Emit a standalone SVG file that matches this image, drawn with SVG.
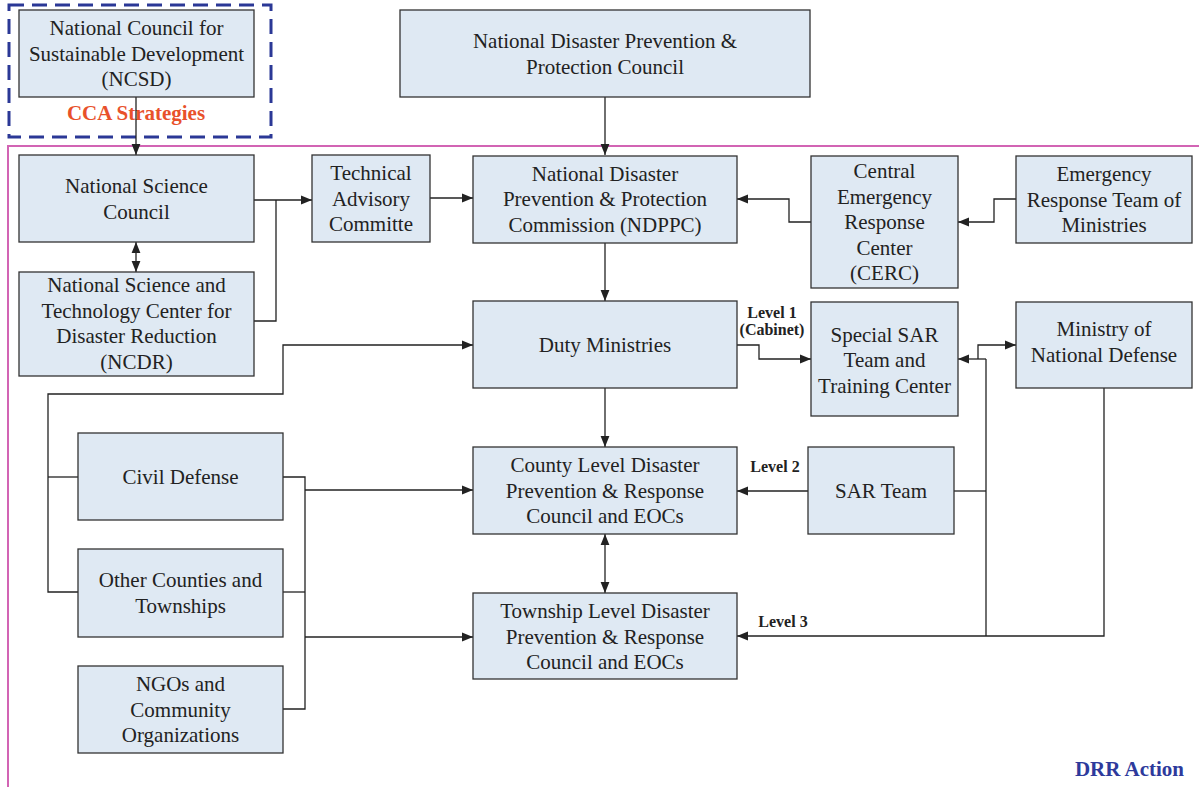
<svg xmlns="http://www.w3.org/2000/svg" width="1199" height="787" viewBox="0 0 1199 787">
<style>
.box{fill:#dfe9f3;stroke:#333;stroke-width:1.3}
.t{font-family:"Liberation Serif","Times New Roman",serif;font-size:21px;fill:#222;text-anchor:middle}
.lv{font-family:"Liberation Serif","Times New Roman",serif;font-size:16px;font-weight:bold;fill:#222;text-anchor:middle}
.c{fill:none;stroke:#222;stroke-width:1.3}
.a{marker-end:url(#ah)}
.b{marker-start:url(#ah);marker-end:url(#ah)}
</style>
<defs>
<marker id="ah" viewBox="0 0 10 10" refX="10" refY="5" markerWidth="11" markerHeight="11" markerUnits="userSpaceOnUse" orient="auto-start-reverse">
<path d="M0,1 L10,5 L0,9 z" fill="#222"/>
</marker>
</defs>
<rect width="1199" height="787" fill="#fff"/>
<g id="frames">
<path d="M1199,146 H8 V787" fill="none" stroke="#d264b4" stroke-width="2"/>
<rect x="9" y="5" width="262" height="132" fill="none" stroke="#2b3896" stroke-width="3" stroke-dasharray="15 8"/>
<text x="136" y="120" font-family="Liberation Serif, serif" font-size="21" font-weight="bold" fill="#e8512b" text-anchor="middle">CCA Strategies</text>
<text x="1184" y="776" font-family="Liberation Serif, serif" font-size="21" font-weight="bold" fill="#2e3a9c" text-anchor="end">DRR Action</text>
</g>
<g id="connectors">
<path class="c a" d="M136,97 V155"/>
<path class="c a" d="M605,97 V155"/>
<path class="c a" d="M254,200 H312"/>
<path class="c" d="M254,321 H276 V200"/>
<path class="c b" d="M136,242 V272"/>
<path class="c a" d="M430,198 H473"/>
<path class="c a" d="M811,222 H789 V199 H737"/>
<path class="c a" d="M1016,199 H994 V222 H958"/>
<path class="c a" d="M605,243 V301"/>
<path class="c a" d="M737,345 H759 V359 H811"/>
<path class="c a" d="M986,359 H958"/>
<path class="c a" d="M978,359 V345 H1016"/>
<path class="c" d="M986,359 V636"/>
<path class="c" d="M954,491 H986"/>
<path class="c a" d="M1104,388 V636 H737"/>
<path class="c a" d="M808,491 H737"/>
<path class="c a" d="M605,388 V447"/>
<path class="c b" d="M605,534 V593"/>
<path class="c" d="M78,477 H48"/>
<path class="c a" d="M78,592 H48 V394 H283 V345 H473"/>
<path class="c" d="M283,477 H305 V709 H283"/>
<path class="c" d="M283,592 H305"/>
<path class="c a" d="M305,490 H473"/>
<path class="c a" d="M305,637 H473"/>
</g>
<g id="ncsd"><rect class="box" x="19" y="10" width="235" height="87"/>
<text class="t" x="136.5" y="35">National Council for</text><text class="t" x="136.5" y="60.5">Sustainable Development</text><text class="t" x="136.5" y="86">(NCSD)</text></g>
<g id="ndppcouncil"><rect class="box" x="400" y="10" width="410" height="87"/>
<text class="t" x="605" y="48">National Disaster Prevention &amp;</text><text class="t" x="605" y="73.5">Protection Council</text></g>
<g id="nsc"><rect class="box" x="19" y="155" width="235" height="87"/>
<text class="t" x="136.5" y="193">National Science</text><text class="t" x="136.5" y="218.5">Council</text></g>
<g id="tac"><rect class="box" x="312" y="155" width="118" height="87"/>
<text class="t" x="371" y="180">Technical</text><text class="t" x="371" y="205.5">Advisory</text><text class="t" x="371" y="231">Committe</text></g>
<g id="ndppc"><rect class="box" x="473" y="156" width="264" height="87"/>
<text class="t" x="605" y="180.5">National Disaster</text><text class="t" x="605" y="206">Prevention &amp; Protection</text><text class="t" x="605" y="231.5">Commission (NDPPC)</text></g>
<g id="cerc"><rect class="box" x="811" y="156" width="147" height="132"/>
<text class="t" x="884.5" y="178">Central</text><text class="t" x="884.5" y="203.5">Emergency</text><text class="t" x="884.5" y="229">Response</text><text class="t" x="884.5" y="254.5">Center</text><text class="t" x="884.5" y="280">(CERC)</text></g>
<g id="ertm"><rect class="box" x="1016" y="156" width="176" height="87"/>
<text class="t" x="1104" y="181">Emergency</text><text class="t" x="1104" y="206.5">Response Team of</text><text class="t" x="1104" y="232">Ministries</text></g>
<g id="ncdr"><rect class="box" x="19" y="272" width="235" height="104"/>
<text class="t" x="136.5" y="292">National Science and</text><text class="t" x="136.5" y="317.5">Technology Center for</text><text class="t" x="136.5" y="343">Disaster Reduction</text><text class="t" x="136.5" y="368.5">(NCDR)</text></g>
<g id="duty"><rect class="box" x="473" y="301" width="264" height="87"/>
<text class="t" x="605" y="352">Duty Ministries</text></g>
<g id="ssar"><rect class="box" x="811" y="302" width="147" height="114"/>
<text class="t" x="884.5" y="341.5">Special SAR</text><text class="t" x="884.5" y="367">Team and</text><text class="t" x="884.5" y="392.5">Training Center</text></g>
<g id="mnd"><rect class="box" x="1016" y="302" width="176" height="86"/>
<text class="t" x="1104" y="336">Ministry of</text><text class="t" x="1104" y="361.5">National Defense</text></g>
<g id="civil"><rect class="box" x="78" y="433" width="205" height="87"/>
<text class="t" x="180.5" y="484">Civil Defense</text></g>
<g id="county"><rect class="box" x="473" y="447" width="264" height="87"/>
<text class="t" x="605" y="472">County Level Disaster</text><text class="t" x="605" y="497.5">Prevention &amp; Response</text><text class="t" x="605" y="523">Council and EOCs</text></g>
<g id="sar"><rect class="box" x="808" y="447" width="146" height="87"/>
<text class="t" x="881" y="497.5">SAR Team</text></g>
<g id="other"><rect class="box" x="78" y="549" width="205" height="88"/>
<text class="t" x="180.5" y="587">Other Counties and</text><text class="t" x="180.5" y="612.5">Townships</text></g>
<g id="township"><rect class="box" x="473" y="593" width="264" height="86"/>
<text class="t" x="605" y="618">Township Level Disaster</text><text class="t" x="605" y="643.5">Prevention &amp; Response</text><text class="t" x="605" y="669">Council and EOCs</text></g>
<g id="ngo"><rect class="box" x="78" y="666" width="205" height="87"/>
<text class="t" x="180.5" y="691">NGOs and</text><text class="t" x="180.5" y="716.5">Community</text><text class="t" x="180.5" y="742">Organizations</text></g>
<g id="labels">
<text class="lv" x="772" y="318">Level 1</text><text class="lv" x="772" y="335">(Cabinet)</text>
<text class="lv" x="775" y="472">Level 2</text>
<text class="lv" x="783" y="627">Level 3</text>
</g>
</svg>
